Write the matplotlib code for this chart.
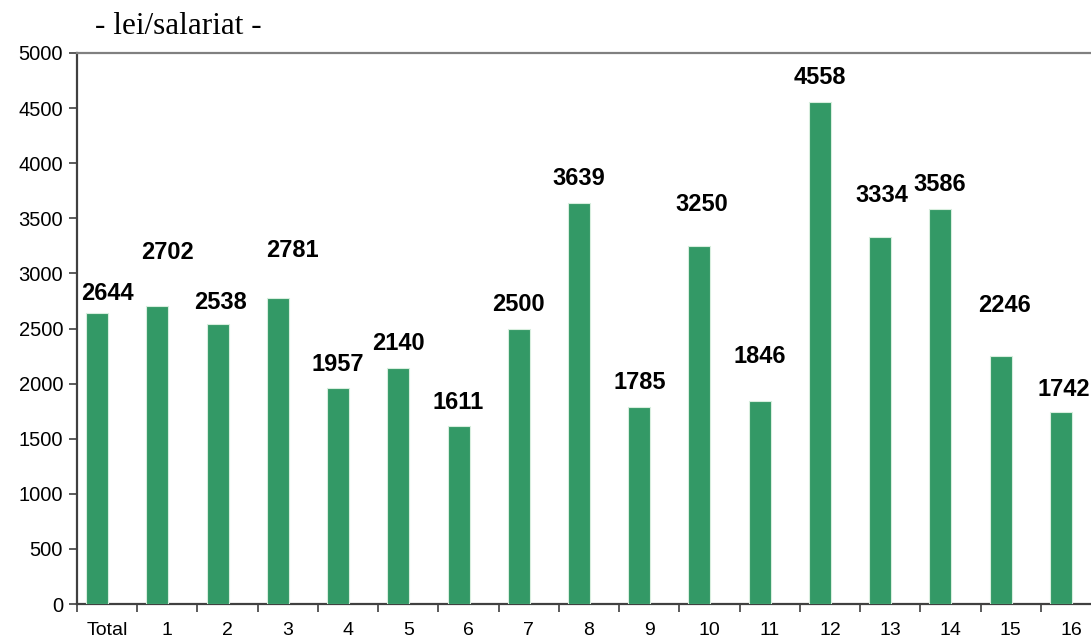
import numpy as np
import matplotlib
matplotlib.use("Agg")
import matplotlib.pyplot as plt

# date
categorii = ["Total", "1", "2", "3", "4", "5", "6", "7", "8", "9", "10",
             "11", "12", "13", "14", "15", "16"]
valori = [2644, 2702, 2538, 2781, 1957, 2140, 1611, 2500, 3639, 1785, 3250,
          1846, 4558, 3334, 3586, 2246, 1742]
# unde stau etichetele: inaltime in lei, deplasare in categorii
pozitie_eticheta = [2822, 3190, 2740, 3208, 2173, 2368, 1828, 2722, 3861, 2010,
                    3621, 2246, 4778, 3707, 3807, 2709, 1942]
deplasare_eticheta = [0, 0.01, -0.12, 0.07, -0.17, -0.16, -0.17, -0.17, -0.17, -0.15,
                      -0.12, -0.17, -0.17, -0.13, -0.17, -0.11, -0.11]

plt.rcParams['font.family'] = ['Liberation Sans', 'DejaVu Sans']

fig = plt.figure(figsize=(10.91, 6.39), dpi=100)
ax = fig.add_axes([77/1091, 35/639, 1024/1091, 551/639])

x = np.arange(len(categorii))
ax.bar(x - 0.166, valori, width=0.365, color='#339966', edgecolor='#d8eede',
       linewidth=0.8, zorder=3)

for i in range(len(valori)):
    ax.text(x[i] + deplasare_eticheta[i], pozitie_eticheta[i], str(valori[i]),
            ha='center', va='center', fontsize=17, fontweight='bold', zorder=4)

ax.set_xlim(-0.5, len(categorii) - 0.5)
ax.set_ylim(0, 5000)
ax.set_yticks(np.arange(0, 5001, 500))
ax.set_xticks(x)
ax.set_xticklabels(categorii)
ax.set_xticks(np.arange(-0.5, len(categorii), 1), minor=True)
ax.tick_params(axis='x', which='major', length=0, pad=13, labelsize=14)
ax.tick_params(axis='x', which='minor', length=6, width=1.2, color='#404040', direction='out')
ax.tick_params(axis='y', length=6, width=1.2, color='#404040', labelsize=14.5, pad=4)

ax.yaxis.grid(True, linestyle=(0, (4, 2)), color='#9fd480', linewidth=0.9, zorder=0)
for gl in ax.get_ygridlines():
    if gl.get_ydata()[0] in (0, 5000):
        gl.set_visible(False)

ax.spines['left'].set_color('#404040')
ax.spines['left'].set_linewidth(1.6)
ax.spines['bottom'].set_color('#404040')
ax.spines['bottom'].set_linewidth(1.6)
ax.spines['top'].set_color('#808080')
ax.spines['top'].set_linewidth(1.6)
ax.spines['right'].set_visible(False)

fig.text(95/1091, 1 - 34/639, "- lei/salariat -", family=['Liberation Serif', 'DejaVu Serif'],
         fontsize=22.5, ha='left', va='baseline')

fig.savefig("out.png", dpi=100)
